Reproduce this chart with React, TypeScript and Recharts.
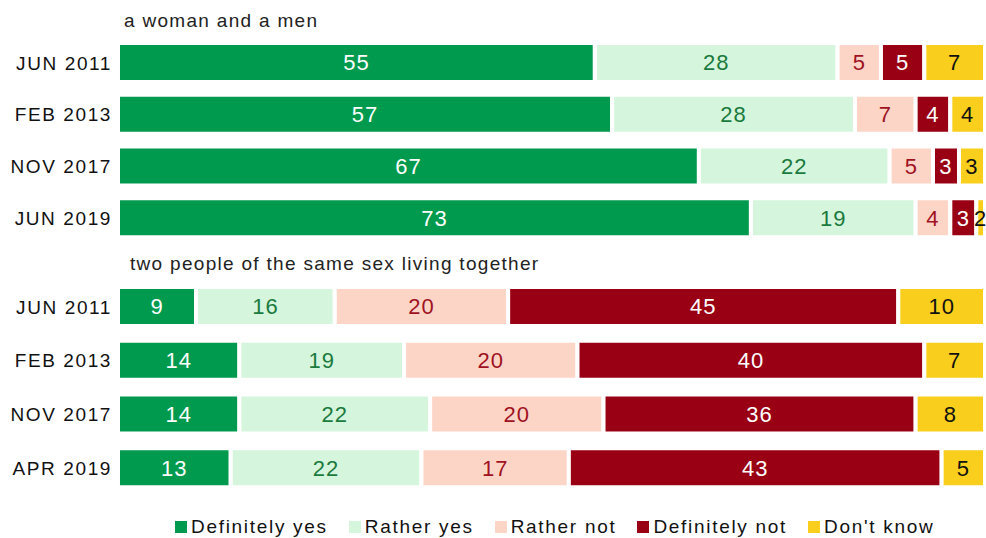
import { BarChart, Bar, XAxis, YAxis, LabelList } from 'recharts';

const periods1 = ['JUN 2011', 'FEB 2013', 'NOV 2017', 'JUN 2019'];
const periods2 = ['JUN 2011', 'FEB 2013', 'NOV 2017', 'APR 2019'];

// a woman and a men
const defYes1 = [55, 57, 67, 73];
const ratherYes1 = [28, 28, 22, 19];
const ratherNot1 = [5, 7, 5, 4];
const defNot1 = [5, 4, 3, 3];
const dontKnow1 = [7, 4, 3, 2];

// two people of the same sex living together
const defYes2 = [9, 14, 14, 13];
const ratherYes2 = [16, 19, 22, 22];
const ratherNot2 = [20, 20, 20, 17];
const defNot2 = [45, 40, 36, 43];
const dontKnow2 = [10, 7, 8, 5];

const series = [
  { key: 'defYes', name: 'Definitely yes', color: '#009A4E', text: '#ffffff' },
  { key: 'ratherYes', name: 'Rather yes', color: '#D5F5DC', text: '#1B7A3E' },
  { key: 'ratherNot', name: 'Rather not', color: '#FDD5C7', text: '#A0121F' },
  { key: 'defNot', name: 'Definitely not', color: '#990014', text: '#ffffff' },
  { key: 'dontKnow', name: "Don't know", color: '#F9CE1D', text: '#111111' },
];

const build = (periods: string[], a: number[], b: number[], c: number[], d: number[], e: number[]) =>
  periods.map((p, i) => ({ period: p, defYes: a[i], ratherYes: b[i], ratherNot: c[i], defNot: d[i], dontKnow: e[i] }));

const data1 = build(periods1, defYes1, ratherYes1, ratherNot1, defNot1, dontKnow1);
const data2 = build(periods2, defYes2, ratherYes2, ratherNot2, defNot2, dontKnow2);

const font = '"Liberation Sans", Arial, sans-serif';

function StackChart({ data, height, margin }: { data: any[]; height: number; margin: any }) {
  return (
    <BarChart width={986} height={height} data={data} layout="vertical" margin={margin} barSize={39}>
      <XAxis type="number" domain={[0, 100]} hide allowDataOverflow />
      <YAxis
        type="category"
        dataKey="period"
        width={118}
        axisLine={false}
        tickLine={false}
        tickSize={0}
        tickMargin={6}
        tick={{ fontSize: 19, fill: '#111', fontFamily: font, letterSpacing: 1.6 }}
      />
      {series.map((s) => (
        <Bar key={s.key} dataKey={s.key} name={s.name} stackId="a" fill={s.color} stroke="#ffffff" strokeWidth={4} isAnimationActive={false}>
          <LabelList dataKey={s.key} position="center" fill={s.text} fontSize={22} fontFamily={font} letterSpacing={1} />
        </Bar>
      ))}
    </BarChart>
  );
}

export default function App() {
  return (
    <div style={{ width: 986, height: 538, position: 'relative', background: '#fff', fontFamily: font }}>
      <style>{'body{margin:0}'}</style>
      <div style={{ position: 'absolute', left: 124, top: 10, fontSize: 19, color: '#222', letterSpacing: 1.3 }}>a woman and a men</div>
      <div style={{ position: 'absolute', left: 0, top: 0 }}>
        <StackChart data={data1} height={250} margin={{ top: 37, right: 1, bottom: 6, left: 0 }} />
      </div>
      <div style={{ position: 'absolute', left: 130, top: 253, fontSize: 19, color: '#222', letterSpacing: 1.3 }}>two people of the same sex living together</div>
      <div style={{ position: 'absolute', left: 0, top: 250 }}>
        <StackChart data={data2} height={250} margin={{ top: 30, right: 1, bottom: 5, left: 0 }} />
      </div>
      <div style={{ position: 'absolute', left: 175, top: 516, display: 'flex', gap: 21, fontSize: 19, color: '#111' }}>
        {series.map((s) => (
          <div key={s.key} style={{ display: 'flex', alignItems: 'center', gap: 4 }}>
            <span style={{ width: 12, height: 12, background: s.color, display: 'inline-block' }} />
            <span style={{ letterSpacing: 1.7 }}>{s.name}</span>
          </div>
        ))}
      </div>
    </div>
  );
}
